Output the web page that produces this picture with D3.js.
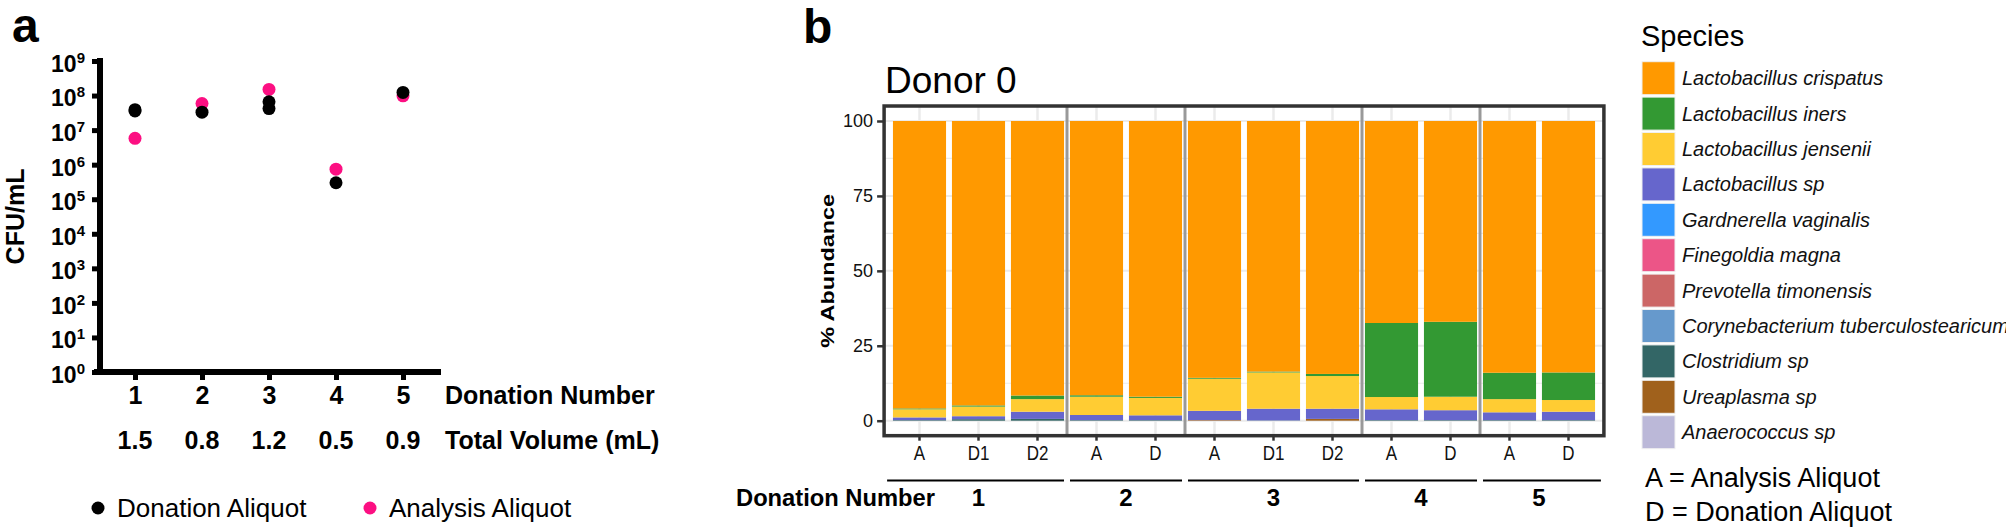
<!DOCTYPE html>
<html>
<head>
<meta charset="utf-8">
<script src="https://cdn.jsdelivr.net/npm/d3@7"></script>
<style>
  body { margin: 0; background: #fff; }
  text { font-family: "Liberation Sans", Arial, Helvetica, sans-serif; }
</style>
</head>
<body>
<svg id="chart" width="2006" height="532"></svg>
<script>
/////////////////////////////// Panel a data ///////////////////////////////
var donations = [1, 2, 3, 4, 5];
var totalVolumes = ["1.5", "0.8", "1.2", "0.5", "0.9"];
var logTicks = [1, 1e1, 1e2, 1e3, 1e4, 1e5, 1e6, 1e7, 1e8, 1e9];
var donationAliquotX = [1, 1, 2, 3, 3, 4, 5];
var donationAliquotCfu = [3.6e7, 3.9e7, 3.3e7, 6.6e7, 4.2e7, 3.0e5, 1.23e8];
var analysisAliquotX = [1, 2, 3, 4, 5];
var analysisAliquotCfu = [5.8e6, 5.9e7, 1.5e8, 7.4e5, 9.8e7];

/////////////////////////////// Panel b data ///////////////////////////////
var sampleLabels = ["A", "D1", "D2", "A", "D", "A", "D1", "D2", "A", "D", "A", "D"];
var sampleDonation = [1, 1, 1, 2, 2, 3, 3, 3, 4, 4, 5, 5];
var abundanceTicks = [0, 25, 50, 75, 100];
var species = ["Lactobacillus crispatus", "Lactobacillus iners", "Lactobacillus jensenii",
  "Lactobacillus sp", "Gardnerella vaginalis", "Finegoldia magna", "Prevotella timonensis",
  "Corynebacterium tuberculostearicum", "Clostridium sp", "Ureaplasma sp", "Anaerococcus sp"];
var speciesColours = ["#ff9900", "#339933", "#ffcc33", "#6666cc", "#3399ff", "#ec5587",
  "#cc6666", "#6699cc", "#336666", "#a0611c", "#bbb8d8"];

var lCrispatus   = [95.9, 94.9, 91.6, 91.5, 92.0, 85.7, 83.6, 84.4, 67.4, 67.0, 84.0, 83.9];
var lIners       = [0.3, 0.4, 1.2, 0.5, 0.4, 0.3, 0.3, 0.7, 24.7, 25.0, 8.8, 9.2];
var lJensenii    = [2.7, 3.2, 4.2, 6.1, 5.8, 10.7, 12.1, 10.9, 4.1, 4.5, 4.4, 3.9];
var lSp          = [0.9, 1.0, 2.4, 1.7, 1.6, 3.1, 3.9, 3.4, 3.6, 3.3, 2.6, 2.8];
var gardnerella  = [0, 0, 0, 0, 0, 0, 0, 0, 0, 0, 0, 0];
var finegoldia   = [0, 0, 0, 0, 0, 0, 0, 0, 0, 0, 0, 0];
var prevotella   = [0, 0, 0, 0, 0, 0, 0, 0, 0, 0, 0, 0];
var corynebact   = [0, 0, 0, 0, 0, 0, 0, 0, 0, 0, 0, 0];
var clostridium  = [0.2, 0.5, 0.6, 0.2, 0.2, 0, 0.1, 0, 0.2, 0.2, 0.2, 0.2];
var ureaplasma   = [0, 0, 0, 0, 0, 0.2, 0, 0.6, 0, 0, 0, 0];
var anaerococcus = [0, 0, 0, 0, 0, 0, 0, 0, 0, 0, 0, 0];

var seriesBySpecies = [lCrispatus, lIners, lJensenii, lSp, gardnerella, finegoldia,
  prevotella, corynebact, clostridium, ureaplasma, anaerococcus];

var svg = d3.select("#chart");
var boldFont = "700";

///////////////////////////////////////////////////////////////////////////
////////////////////////////// Panel a ////////////////////////////////////
///////////////////////////////////////////////////////////////////////////

svg.append("text").attr("x", 12).attr("y", 42)
  .style("font-size", "48px").style("font-weight", boldFont).text("a");

var gA = svg.append("g");
var yA = d3.scaleLog().domain([1, 1e9]).range([372, 61]);
var xA = d3.scaleLinear().domain([1, 5]).range([135, 403]);

// y axis
var yAxisA = d3.axisLeft(yA).tickValues(logTicks).tickSize(8).tickSizeOuter(0)
  .tickFormat(function() { return ""; });
var yAxisG = gA.append("g").attr("transform", "translate(100,0)").call(yAxisA);
yAxisG.select(".domain").remove();
yAxisG.selectAll(".tick line").attr("stroke", "#000").attr("stroke-width", 5);
yAxisG.selectAll(".tick text").each(function(d) {
  var t = d3.select(this).attr("x", -15).attr("dy", "0.45em")
    .attr("text-anchor", "end").style("font-size", "23px").style("font-weight", boldFont)
    .attr("fill", "#000");
  t.text("10");
  t.append("tspan").attr("dy", -9).style("font-size", "15px").text(Math.round(Math.log10(d)));
});

// x axis
var xAxisA = d3.axisBottom(xA).tickValues(donations).tickSize(8).tickSizeOuter(0).tickPadding(6)
  .tickFormat(d3.format("d"));
var xAxisG = gA.append("g").attr("transform", "translate(0,372)").call(xAxisA);
xAxisG.select(".domain").remove();
xAxisG.selectAll(".tick line").attr("stroke", "#000").attr("stroke-width", 5);
xAxisG.selectAll(".tick text").style("font-size", "25px").style("font-weight", boldFont).attr("fill", "#000");

// axis lines
gA.append("line").attr("x1", 100).attr("x2", 100).attr("y1", 375).attr("y2", yA(1e9) - 3)
  .attr("stroke", "#000").attr("stroke-width", 6);
gA.append("line").attr("x1", 94).attr("x2", 441).attr("y1", 372).attr("y2", 372)
  .attr("stroke", "#000").attr("stroke-width", 6);

// total volume row
gA.selectAll(".vol").data(totalVolumes).enter().append("text")
  .attr("class", "vol")
  .attr("x", function(d, i) { return xA(donations[i]); })
  .attr("y", 449).attr("text-anchor", "middle")
  .style("font-size", "25px").style("font-weight", boldFont).text(function(d) { return d; });

gA.append("text").attr("x", 445).attr("y", 404)
  .style("font-size", "25px").style("font-weight", boldFont).text("Donation Number");
gA.append("text").attr("x", 445).attr("y", 449)
  .style("font-size", "25px").style("font-weight", boldFont).text("Total Volume (mL)");

gA.append("text")
  .attr("transform", "translate(24," + ((61 + 372) / 2) + ") rotate(-90)")
  .attr("text-anchor", "middle").style("font-size", "25px").style("font-weight", boldFont)
  .text("CFU/mL");

// points: analysis first, donation on top
gA.selectAll(".ana").data(analysisAliquotCfu).enter().append("circle")
  .attr("class", "ana")
  .attr("cx", function(d, i) { return xA(analysisAliquotX[i]); })
  .attr("cy", function(d) { return yA(d); })
  .attr("r", 6.5).attr("fill", "#fc0f82");
gA.selectAll(".don").data(donationAliquotCfu).enter().append("circle")
  .attr("class", "don")
  .attr("cx", function(d, i) { return xA(donationAliquotX[i]); })
  .attr("cy", function(d) { return yA(d); })
  .attr("r", 6.5).attr("fill", "#000");

// legend
var legA = [{label: "Donation Aliquot", colour: "#000", x: 98},
            {label: "Analysis Aliquot", colour: "#fc0f82", x: 370}];
legA.forEach(function(l) {
  gA.append("circle").attr("cx", l.x).attr("cy", 508).attr("r", 6.5).attr("fill", l.colour);
  gA.append("text").attr("x", l.x + 19).attr("y", 517).style("font-size", "26px").text(l.label);
});

///////////////////////////////////////////////////////////////////////////
////////////////////////////// Panel b ////////////////////////////////////
///////////////////////////////////////////////////////////////////////////

svg.append("text").attr("x", 803).attr("y", 43)
  .style("font-size", "48px").style("font-weight", boldFont).text("b");

var gB = svg.append("g");
var xB = d3.scaleBand().domain(d3.range(sampleLabels.length)).range([890, 1598])
  .paddingInner(0.1).paddingOuter(0.05);
var yB = d3.scaleLinear().domain([0, 100]).range([420.7, 121]);
var panelLeft = xB(0) + xB.bandwidth() / 2 - 0.6 * xB.step(),
    panelRight = xB(sampleLabels.length - 1) + xB.bandwidth() / 2 + 0.6 * xB.step(),
    panelTop = yB(105), panelBottom = yB(-5);

gB.append("text").attr("x", 885).attr("y", 93).style("font-size", "37px").text("Donor 0");

// grid
d3.range(0, 101, 12.5).forEach(function(v) {
  gB.append("line").attr("x1", panelLeft).attr("x2", panelRight)
    .attr("y1", yB(v)).attr("y2", yB(v))
    .attr("stroke", "#ebebeb").attr("stroke-width", v % 25 === 0 ? 2 : 1.2);
});
sampleLabels.forEach(function(s, i) {
  var cx = xB(i) + xB.bandwidth() / 2;
  gB.append("line").attr("x1", cx).attr("x2", cx).attr("y1", panelTop).attr("y2", panelBottom)
    .attr("stroke", "#ebebeb").attr("stroke-width", 2.5);
});

// stacked bars
var table = sampleLabels.map(function(s, i) {
  var row = {idx: i};
  species.forEach(function(sp, k) { row[sp] = seriesBySpecies[k][i]; });
  return row;
});
var stackKeys = species.slice().reverse();
var stacked = d3.stack().keys(stackKeys)(table);
var colour = d3.scaleOrdinal().domain(species).range(speciesColours);

gB.selectAll(".layer").data(stacked).enter().append("g")
  .attr("class", "layer")
  .attr("fill", function(d) { return colour(d.key); })
  .selectAll("rect").data(function(d) { return d; }).enter().append("rect")
  .attr("x", function(d) { return xB(d.data.idx); })
  .attr("width", xB.bandwidth())
  .attr("y", function(d) { return yB(d[1]); })
  .attr("height", function(d) { return Math.max(0, yB(d[0]) - yB(d[1])); });

// donation separators
var boundaries = [panelLeft];
sampleDonation.forEach(function(dn, i) {
  if (i > 0 && dn !== sampleDonation[i - 1]) {
    boundaries.push((xB(i - 1) + xB(i) + xB.bandwidth()) / 2);
  }
});
boundaries.push(panelRight);
boundaries.slice(1, -1).forEach(function(bx) {
  gB.append("line").attr("x1", bx).attr("x2", bx).attr("y1", panelTop).attr("y2", panelBottom)
    .attr("stroke", "#999").attr("stroke-width", 3);
});

// frame
gB.append("rect").attr("x", panelLeft).attr("y", panelTop)
  .attr("width", panelRight - panelLeft).attr("height", panelBottom - panelTop)
  .attr("fill", "none").attr("stroke", "#333").attr("stroke-width", 3.5);

// y axis
var yAxisB = d3.axisLeft(yB).tickValues(abundanceTicks).tickSize(7).tickSizeOuter(0).tickPadding(4);
var yAxisBG = gB.append("g").attr("transform", "translate(" + panelLeft + ",0)").call(yAxisB);
yAxisBG.select(".domain").remove();
yAxisBG.selectAll(".tick line").attr("stroke", "#333").attr("stroke-width", 2.5);
yAxisBG.selectAll(".tick text").style("font-size", "18px").attr("fill", "#111");

gB.append("text")
  .attr("transform", "translate(834," + ((panelTop + panelBottom) / 2) + ") rotate(-90)")
  .attr("text-anchor", "middle").style("font-size", "19px").style("font-weight", boldFont)
  .attr("textLength", 154).attr("lengthAdjust", "spacingAndGlyphs")
  .text("% Abundance");

// x axis
var xAxisB = d3.axisBottom(xB).tickSize(5).tickSizeOuter(0).tickPadding(5)
  .tickFormat(function(i) { return sampleLabels[i]; });
var xAxisBG = gB.append("g").attr("transform", "translate(0," + panelBottom + ")").call(xAxisB);
xAxisBG.select(".domain").remove();
xAxisBG.selectAll(".tick line").attr("stroke", "#333").attr("stroke-width", 2.5);
xAxisBG.selectAll(".tick text").style("font-size", "20px").attr("fill", "#111")
  .attr("transform", "scale(0.85,1)");

// donation group underlines and numbers
var groups = d3.groups(sampleLabels.map(function(s, i) { return i; }), function(i) { return sampleDonation[i]; });
groups.forEach(function(g, k) {
  gB.append("line").attr("x1", boundaries[k] + 3).attr("x2", boundaries[k + 1] - 3)
    .attr("y1", 480.5).attr("y2", 480.5).attr("stroke", "#000").attr("stroke-width", 2);
  var cx = d3.mean(g[1], function(i) { return xB(i) + xB.bandwidth() / 2; });
  gB.append("text").attr("x", cx).attr("y", 506).attr("text-anchor", "middle")
    .style("font-size", "24px").style("font-weight", boldFont).text(g[0]);
});
gB.append("text").attr("x", 736).attr("y", 506)
  .style("font-size", "24px").style("font-weight", boldFont)
  .attr("textLength", 199).attr("lengthAdjust", "spacingAndGlyphs")
  .text("Donation Number");

// legend
var legB = svg.append("g");
legB.append("text").attr("x", 1641).attr("y", 46).style("font-size", "29px").text("Species");
species.forEach(function(sp, k) {
  var y0 = 61.7 + k * 35.4;
  legB.append("rect").attr("x", 1642).attr("y", y0).attr("width", 33).attr("height", 33)
    .attr("fill", colour(sp)).attr("stroke", "#f0f0f0").attr("stroke-width", 1);
  legB.append("text").attr("x", 1682).attr("y", y0 + 16.5).attr("dy", "0.35em")
    .style("font-size", "20px").style("font-style", "italic").attr("fill", "#111").text(sp);
});
legB.append("text").attr("x", 1645).attr("y", 487).style("font-size", "27px").text("A = Analysis Aliquot");
legB.append("text").attr("x", 1645).attr("y", 521).style("font-size", "27px").text("D = Donation Aliquot");
</script>
</body>
</html>
